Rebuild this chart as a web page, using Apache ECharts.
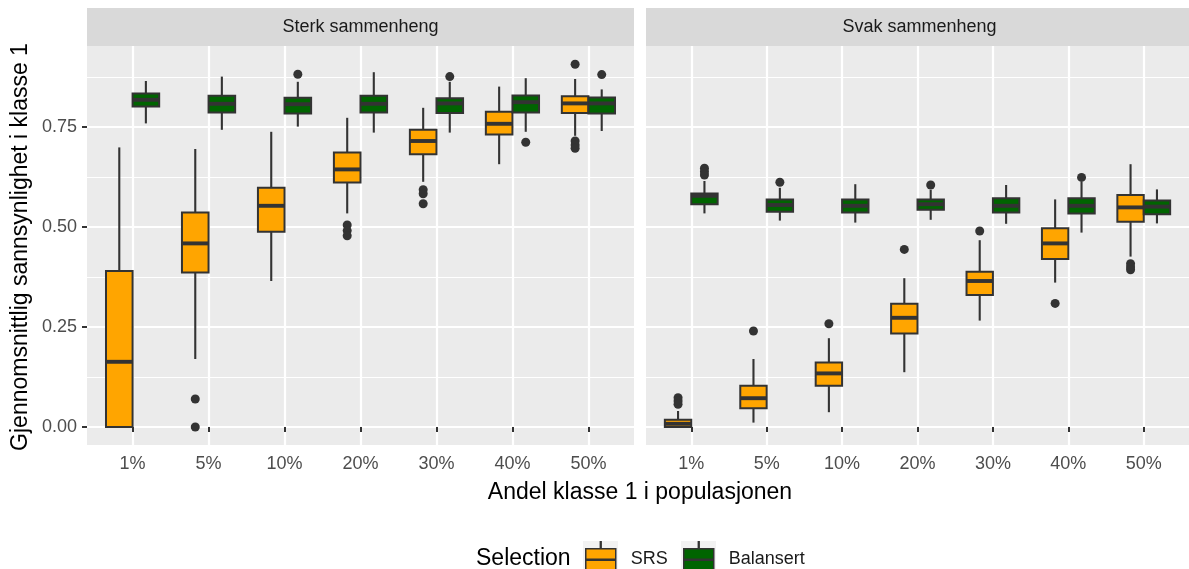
<!DOCTYPE html>
<html><head><meta charset="utf-8">
<script src="https://cdn.jsdelivr.net/npm/echarts@6/dist/echarts.min.js"></script>
<style>html,body{margin:0;padding:0;background:#fff}#c{width:1189px;height:569px}</style>
</head><body><div id="c"></div>
<script>
// ---- data ----
const categories = ['1%', '5%', '10%', '20%', '30%', '40%', '50%'];
const panels = ['Sterk sammenheng', 'Svak sammenheng'];
const seriesNames = ['SRS', 'Balansert'];
const yTicks = [0, 0.25, 0.5, 0.75];
const yMinorTicks = [0.125, 0.375, 0.625, 0.875];

// [lower whisker, Q1, median, Q3, upper whisker]
const sterkSrs = [
  [0.000, 0.000, 0.163, 0.390, 0.699],
  [0.170, 0.386, 0.459, 0.536, 0.695],
  [0.365, 0.488, 0.553, 0.598, 0.738],
  [0.534, 0.611, 0.644, 0.686, 0.773],
  [0.613, 0.682, 0.715, 0.743, 0.798],
  [0.657, 0.731, 0.758, 0.788, 0.851],
  [0.728, 0.785, 0.809, 0.827, 0.870]
];
const sterkSrsOut = [[], [0.070, 0.000], [], [0.505, 0.491, 0.478], [0.593, 0.583, 0.558], [], [0.907, 0.715, 0.705, 0.697]];

const sterkBal = [
  [0.759, 0.801, 0.818, 0.834, 0.865],
  [0.743, 0.786, 0.808, 0.828, 0.876],
  [0.751, 0.784, 0.807, 0.823, 0.863],
  [0.736, 0.786, 0.808, 0.828, 0.887],
  [0.736, 0.785, 0.809, 0.822, 0.863],
  [0.738, 0.786, 0.812, 0.829, 0.872],
  [0.740, 0.784, 0.809, 0.824, 0.844]
];
const sterkBalOut = [[], [], [0.882], [], [0.876], [0.712], [0.881]];

const svakSrs = [
  [0.000, 0.000, 0.008, 0.018, 0.040],
  [0.011, 0.047, 0.072, 0.103, 0.170],
  [0.037, 0.103, 0.134, 0.161, 0.222],
  [0.137, 0.234, 0.273, 0.308, 0.372],
  [0.266, 0.330, 0.365, 0.388, 0.467],
  [0.361, 0.420, 0.459, 0.497, 0.569],
  [0.426, 0.513, 0.549, 0.580, 0.657]
];
const svakSrsOut = [[0.073, 0.065, 0.057], [0.240], [0.258], [0.444], [0.490], [0.309], [0.408, 0.400, 0.393]];

const svakBal = [
  [0.534, 0.557, 0.578, 0.584, 0.615],
  [0.516, 0.538, 0.555, 0.569, 0.598],
  [0.511, 0.536, 0.553, 0.569, 0.607],
  [0.518, 0.543, 0.557, 0.569, 0.593],
  [0.508, 0.536, 0.553, 0.572, 0.605],
  [0.486, 0.534, 0.553, 0.572, 0.613],
  [0.509, 0.532, 0.551, 0.566, 0.594]
];
const svakBalOut = [[0.647, 0.638, 0.630], [0.612], [], [0.605], [], [0.624], []];

// ---- chart ----
const FONT = 'Liberation Sans';
const LINE = '#333333';
const colors = { SRS: '#FFA500', Balansert: '#006400' };
const catPos = categories.map((c, i) => i + 1);
const yMin = -0.045, yMax = 0.9525;
const gridDefs = [{ left: 87 }, { left: 646 }];

function rows(stats) { return stats.map((s, i) => [i + 1].concat(s)); }

function boxRenderer(outliers, side) {
  return function (params, api) {
    const x = api.value(0);
    const bw = api.size([1, 0])[0];
    const half = bw * 0.175;
    const cx = api.coord([x, 0])[0] + side * half;
    const y = k => api.coord([x, api.value(k)])[1];
    const yl = y(1), yq1 = y(2), ym = y(3), yq3 = y(4), yh = y(5);
    const color = api.visual('color');
    const children = [
      { type: 'line', shape: { x1: cx, y1: yh, x2: cx, y2: yq3 }, style: { stroke: LINE, lineWidth: 2.1 } },
      { type: 'line', shape: { x1: cx, y1: yq1, x2: cx, y2: yl }, style: { stroke: LINE, lineWidth: 2.1 } },
      { type: 'rect', shape: { x: cx - half, y: yq3, width: 2 * half, height: yq1 - yq3 }, style: { fill: color, stroke: LINE, lineWidth: 2.0 } },
      { type: 'line', shape: { x1: cx - half, y1: ym, x2: cx + half, y2: ym }, style: { stroke: LINE, lineWidth: 3.9 } }
    ];
    (outliers[params.dataIndex] || []).forEach(v => {
      const p = api.coord([x, v]);
      children.push({ type: 'circle', shape: { cx: cx, cy: p[1], r: 4.5 }, style: { fill: LINE } });
    });
    return { type: 'group', children: children };
  };
}

const grids = gridDefs.map(g => ({
  left: g.left, top: 46, width: 547, height: 399,
  show: true, backgroundColor: '#ebebeb', borderWidth: 0
}));

const xAxes = gridDefs.map((g, gi) => ({
  type: 'value', gridIndex: gi, min: 0.4, max: 7.6,
  axisLine: { show: false },
  axisTick: { show: true, customValues: catPos, length: 5, lineStyle: { color: LINE, width: 2 } },
  axisLabel: { customValues: catPos, formatter: v => categories[Math.round(v) - 1], fontSize: 18, color: '#4d4d4d', margin: 10, fontFamily: FONT },
  splitLine: { show: true, lineStyle: { color: '#ffffff', width: 2.2 } }
}));

const yAxes = [];
gridDefs.forEach((g, gi) => {
  yAxes.push({
    type: 'value', gridIndex: gi, min: yMin, max: yMax,
    axisLine: { show: false },
    axisTick: { show: gi === 0, customValues: yTicks, length: 5, lineStyle: { color: LINE, width: 2 } },
    axisLabel: { show: gi === 0, customValues: yTicks, formatter: v => v.toFixed(2), fontSize: 18, color: '#4d4d4d', margin: 10, fontFamily: FONT },
    splitLine: { show: true, lineStyle: { color: '#ffffff', width: 2.2 } }
  });
});
gridDefs.forEach((g, gi) => {
  yAxes.push({
    type: 'value', gridIndex: gi, min: yMin, max: yMax,
    axisLine: { show: false },
    axisTick: { show: false, customValues: yMinorTicks },
    axisLabel: { show: false, customValues: yMinorTicks },
    splitLine: { show: true, lineStyle: { color: '#ffffff', width: 1.1 } }
  });
});

function boxSeries(name, gi, stats, outs, side) {
  return {
    type: 'custom', name: name, xAxisIndex: gi, yAxisIndex: gi,
    data: rows(stats), encode: { x: 0, y: [1, 2, 3, 4, 5] },
    itemStyle: { color: colors[name] }, clip: false, z: 3,
    renderItem: boxRenderer(outs, side)
  };
}

const series = [
  boxSeries('SRS', 0, sterkSrs, sterkSrsOut, -1),
  boxSeries('Balansert', 0, sterkBal, sterkBalOut, 1),
  boxSeries('SRS', 1, svakSrs, svakSrsOut, -1),
  boxSeries('Balansert', 1, svakBal, svakBalOut, 1)
];

const keyIcon = 'path://M0,0 M42,35 M2,7 L32,7 L32,29 L2,29 Z M2,17.6 L32,17.6 L32,18.4 L2,18.4 Z M16.6,0 L17.4,0 L17.4,7 L16.6,7 Z M16.6,29 L17.4,29 L17.4,35 L16.6,35 Z';
const legendLefts = [583, 681];
const legends = seriesNames.map((n, i) => ({
  data: [{ name: n, icon: keyIcon }],
  left: legendLefts[i], top: 541, itemWidth: 42, itemHeight: 35,
  selectedMode: false, padding: 0,
  itemStyle: { borderColor: LINE, borderWidth: 1.5 },
  textStyle: { fontSize: 18, color: '#1a1a1a', fontFamily: FONT }
}));

const graphics = [];
gridDefs.forEach((g, gi) => {
  graphics.push({ type: 'rect', left: g.left, top: 8, shape: { width: 547, height: 38 }, style: { fill: '#d9d9d9' }, z: 0 });
  graphics.push({ type: 'text', x: g.left + 273.5, y: 27, style: { text: panels[gi], fontSize: 18, fill: '#1a1a1a', fontFamily: FONT, textAlign: 'center', textVerticalAlign: 'middle' }, z: 1 });
});
graphics.push({ type: 'text', x: 21, y: 247, rotation: Math.PI / 2, style: { text: 'Gjennomsnittlig sannsynlighet i klasse 1', fontSize: 23, fill: '#000', fontFamily: FONT, textAlign: 'center', textVerticalAlign: 'middle' } });
graphics.push({ type: 'text', x: 640, y: 493, style: { text: 'Andel klasse 1 i populasjonen', fontSize: 23, fill: '#000', fontFamily: FONT, textAlign: 'center', textVerticalAlign: 'middle' } });
graphics.push({ type: 'text', x: 476, y: 559, style: { text: 'Selection', fontSize: 23, fill: '#000', fontFamily: FONT, textAlign: 'left', textVerticalAlign: 'middle' } });
legendLefts.forEach(l => {
  graphics.push({ type: 'rect', left: l, top: 541, shape: { width: 35, height: 36 }, style: { fill: '#f2f2f2' }, z: 0 });
});

const chart = echarts.init(document.getElementById('c'), null, { renderer: 'canvas' });
chart.setOption({
  animation: false,
  backgroundColor: '#ffffff',
  textStyle: { fontFamily: FONT },
  grid: grids,
  xAxis: xAxes,
  yAxis: yAxes,
  legend: legends,
  graphic: graphics,
  series: series
});
</script></body></html>
